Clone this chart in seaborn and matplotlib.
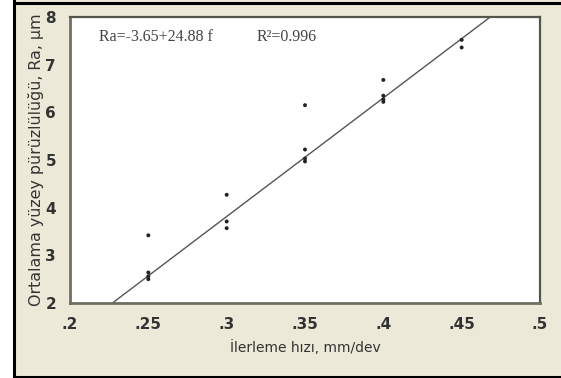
import matplotlib
matplotlib.use("Agg")
import matplotlib.pyplot as plt
import seaborn as sns
import numpy as np
import pandas as pd
from matplotlib.patches import Rectangle
from matplotlib.lines import Line2D

# measured points (feed rate, mean surface roughness)
feed = [0.25, 0.25, 0.25, 0.25,
        0.30, 0.30, 0.30,
        0.35, 0.35, 0.35, 0.35,
        0.40, 0.40, 0.40, 0.40,
        0.45, 0.45]
ra = [3.42, 2.64, 2.56, 2.50,
      4.27, 3.71, 3.57,
      6.15, 5.22, 5.03, 4.97,
      6.68, 6.35, 6.27, 6.22,
      7.52, 7.36]

# regression Ra = a + b f
intercept = -3.65
slope = 24.88
r2 = 0.996

x_ticks = [0.2, 0.25, 0.3, 0.35, 0.4, 0.45, 0.5]
x_tick_labels = [".2", ".25", ".3", ".35", ".4", ".45", ".5"]
y_ticks = [2, 3, 4, 5, 6, 7, 8]

df = pd.DataFrame({"feed": feed, "ra": ra})

sns.set_style("white")
plt.rcParams["font.family"] = ["DejaVu Sans"]

bg = "#ECE9D8"
fig = plt.figure(figsize=(5.61, 3.78), dpi=100)
fig.patch.set_facecolor(bg)

# white strip on the left + black frame lines, like the scanned figure
fig.patches.append(Rectangle((0, 0), 13.5 / 561, 1, transform=fig.transFigure,
                             facecolor="white", edgecolor="none", zorder=0))
for xs, ys in [([13.5 / 561, 13.5 / 561], [0, 1]),
               ([13.5 / 561, 1], [1 - 3 / 378, 1 - 3 / 378]),
               ([13.5 / 561, 1], [1.5 / 378, 1.5 / 378])]:
    fig.lines.append(Line2D(xs, ys, transform=fig.transFigure, color="black", lw=2.2))

ax = fig.add_axes([70 / 561, 1 - 303 / 378, 470 / 561, 286 / 378])
ax.set_facecolor("white")

sns.scatterplot(data=df, x="feed", y="ra", ax=ax, color="#222222", s=8,
                edgecolor="none", zorder=3)

xf = np.array([0.2, 0.5])
sns.lineplot(x=xf, y=intercept + slope * xf, ax=ax, color="#555555", lw=1.0)

ax.set_xlim(0.2, 0.5)
ax.set_ylim(2, 8)
ax.set_xticks(x_ticks)
ax.set_xticklabels(x_tick_labels)
ax.set_yticks(y_ticks)

for side in ["left", "bottom"]:
    ax.spines[side].set_color("#6e6e62")
    ax.spines[side].set_linewidth(2.0)
for side in ["top", "right"]:
    ax.spines[side].set_color("#55554c")
    ax.spines[side].set_linewidth(1.6)

ax.tick_params(axis="both", direction="out", length=8, width=1.6, color="#555555",
               labelsize=11, labelcolor="#333333", pad=2)
for lab in ax.get_xticklabels() + ax.get_yticklabels():
    lab.set_fontweight("bold")

ax.set_xlabel("İlerleme hızı, mm/dev", fontsize=10, color="#333333", labelpad=6)
ax.set_ylabel("Ortalama yüzey pürüzlülüğü, Ra, µm", fontsize=11.4, color="#333333", labelpad=1)

ax.text(0.2185, 7.58, f"Ra=-{abs(intercept):.2f}+{slope:.2f} f",
        family="Liberation Serif", fontsize=11.5, color="#444444", va="center")
ax.text(0.319, 7.58, f"R²={r2}", family="Liberation Serif", fontsize=11.5,
        color="#444444", va="center")

fig.savefig("out.png", dpi=100, facecolor=bg)
